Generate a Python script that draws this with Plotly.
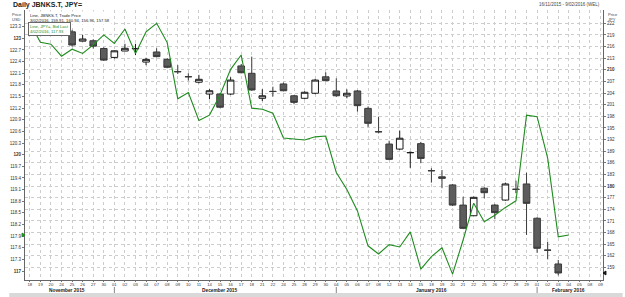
import plotly.graph_objects as go

# ---------------- data ----------------
dates = ["2015-11-18", "2015-11-19", "2015-11-20", "2015-11-24", "2015-11-25", "2015-11-26", "2015-11-27", "2015-11-30",
         "2015-12-01", "2015-12-02", "2015-12-03", "2015-12-04", "2015-12-07", "2015-12-08", "2015-12-09", "2015-12-10",
         "2015-12-11", "2015-12-14", "2015-12-15", "2015-12-16", "2015-12-17", "2015-12-18", "2015-12-21", "2015-12-22",
         "2015-12-24", "2015-12-25", "2015-12-28", "2015-12-29", "2015-12-30",
         "2016-01-04", "2016-01-05", "2016-01-06", "2016-01-07", "2016-01-08", "2016-01-12", "2016-01-13", "2016-01-14",
         "2016-01-15", "2016-01-18", "2016-01-19", "2016-01-20", "2016-01-21", "2016-01-22", "2016-01-25", "2016-01-26",
         "2016-01-27", "2016-01-28", "2016-01-29",
         "2016-02-01", "2016-02-02", "2016-02-03", "2016-02-04", "2016-02-05", "2016-02-08", "2016-02-09"]
day_labels = [d[-2:] for d in dates]
month_names = {"2015-11": "November 2015", "2015-12": "December 2015",
               "2016-01": "January 2016", "2016-02": "February 2016"}

# JPY= Bid Last (left axis), Nov 18 -> Feb 4
usdjpy_dates = dates[:52]
usdjpy = [123.40, 122.90, 122.85, 122.54, 122.72, 122.61, 122.83, 123.09,
          122.87, 123.24, 122.61, 123.17, 123.39, 122.89, 121.44, 121.60,
          120.88, 121.02, 121.54, 122.20, 122.57, 121.20, 121.17, 121.07,
          120.43, 120.40, 120.38, 120.46, 120.48,
          119.54, 119.10, 118.55, 117.65, 117.44, 117.68, 117.62, 118.01,
          117.05, 117.37, 117.60, 116.92, 117.80, 118.75, 118.27, 118.44,
          118.64, 118.81, 121.02,
          120.98, 119.91, 117.88, 117.93]

# JBNKS.T OHLC (right axis), Nov 24 -> Feb 3
candle_dates = dates[3:51]
opens = [221.0, 219.8, 217.4, 217.5, 215.5,
         213.2, 214.85, 215.4, 212.0, 214.6, 212.7, 209.55, 208.25, 206.8, 203.75, 203.75, 203.75, 211.0, 209.1,
         202.65, 204.45, 206.35, 203.3, 202.65, 203.95, 208.2,
         204.55, 203.25, 204.55, 200.05, 194.05, 190.85, 189.55, 188.6, 190.95, 184.0, 182.4, 180.3, 175.1,
         172.35, 179.45, 175.1, 176.4, 179.2, 180.55,
         171.7, 163.5, 159.91]
highs = [221.6, 220.3, 219.0, 217.9, 215.8,
         215.0, 216.7, 216.7, 213.1, 215.55, 213.0, 211.2, 209.1, 208.7, 205.0, 203.95, 208.1, 211.5, 213.4,
         205.0, 205.65, 206.7, 203.5, 204.45, 207.65, 209.35,
         207.8, 204.95, 204.8, 200.5, 197.9, 191.7, 194.3, 188.9, 191.4, 184.6, 184.15, 180.55, 177.25,
         177.3, 179.7, 175.4, 180.9, 181.4, 183.45,
         171.95, 165.65, 160.94]
lows = [219.8, 216.0, 217.3, 215.5, 212.3,
        212.9, 214.8, 213.8, 211.2, 213.2, 210.4, 208.9, 207.2, 206.5, 202.4, 200.1, 203.5, 209.1, 204.6,
        201.95, 203.1, 204.45, 201.1, 202.4, 203.7, 207.1,
        203.05, 202.65, 199.2, 195.3, 193.6, 186.7, 189.3, 184.7, 185.9, 180.9, 179.45, 174.85, 168.9,
        172.3, 176.85, 171.45, 176.2, 178.15, 167.4,
        162.8, 161.1, 156.96]
closes = [220.9, 216.4, 217.95, 216.1, 212.5,
          214.9, 215.55, 215.5, 212.7, 213.4, 210.65, 209.5, 208.2, 207.55, 204.6, 200.35, 207.35, 209.25, 204.8,
          203.3, 204.4, 204.6, 201.6, 204.2, 207.35, 207.2,
          203.3, 203.95, 200.75, 196.2, 194.0, 186.9, 192.35, 188.65, 187.15, 183.95, 182.0, 175.1, 169.1,
          177.1, 178.3, 173.15, 180.55, 179.15, 175.55,
          163.95, 163.45, 157.58]

left_ticks = [117.0, 117.3, 117.6, 117.9, 118.2, 118.5, 118.8, 119.1, 119.4, 119.7, 120.0,
              120.3, 120.6, 120.9, 121.2, 121.5, 121.8, 122.1, 122.4, 122.7, 123.0, 123.3]
right_ticks = [159, 162, 165, 168, 171, 174, 177, 180, 183, 186, 189,
               192, 195, 198, 201, 204, 207, 210, 213, 216, 219, 222]

# ---------------- layout helpers ----------------
W, H = 625, 297
L, R, T, B = 16, 20, 10, 17
PW, PH = W - L - R, H - T - B


def px(x):
    return (x - L) / PW


def py(y):
    return (H - B - y) / PH


FONT = "Liberation Sans, Arial, sans-serif"
GREEN = "#1e8c1e"
GRID = "#cdcdcd"

fig = go.Figure()

fig.add_trace(go.Candlestick(
    x=candle_dates, open=opens, high=highs, low=lows, close=closes,
    xaxis="x", yaxis="y",
    increasing=dict(line=dict(color="#1a1a1a", width=1), fillcolor="#ffffff"),
    decreasing=dict(line=dict(color="#3a3a3a", width=1), fillcolor="#5c5c5c"),
    whiskerwidth=0, showlegend=False, hoverinfo="skip"))

fig.add_trace(go.Scatter(
    x=usdjpy_dates, y=usdjpy, mode="lines", xaxis="x", yaxis="y2",
    line=dict(color=GREEN, width=1.1), showlegend=False, hoverinfo="skip"))


def fmt_left(v):
    s = ("%g" % v)
    return "<b>%s</b>" % s if abs(v - round(v)) < 1e-9 else s


def fmt_right(v):
    return "<b>%d</b>" % v if v % 30 == 0 else "%d" % v


fig.update_layout(
    width=W, height=H, autosize=False,
    margin=dict(l=L, r=R, t=T, b=B, pad=0),
    paper_bgcolor="white", plot_bgcolor="white",
    font=dict(family=FONT, size=5, color="#333333"),
    boxgap=0.2, boxgroupgap=0.22,
    xaxis=dict(type="category", categoryorder="array", categoryarray=dates,
               range=[-0.455, 54.235], tickmode="array", tickvals=dates, ticktext=day_labels,
               tickfont=dict(size=4.2, color="#333333"), ticks="outside", ticklen=1, tickcolor="#777777",
               ticklabelstandoff=-1,
               showgrid=True, gridcolor=GRID, griddash="dot", gridwidth=1,
               showline=True, linecolor="#666666", linewidth=1,
               rangeslider=dict(visible=False), fixedrange=True, zeroline=False),
    yaxis=dict(side="right", range=[155.772, 225.431], tickmode="array",
               tickvals=right_ticks, ticktext=[fmt_right(v) for v in right_ticks],
               tickfont=dict(size=4.5, color="#333333"), ticks="outside", ticklen=2, tickcolor="#777777",
               showgrid=True, gridcolor=GRID, griddash="dot", gridwidth=1,
               showline=True, linecolor="#666666", linewidth=1, zeroline=False, fixedrange=True),
    yaxis2=dict(side="left", overlaying="y", range=[116.768, 123.731], tickmode="array",
                tickvals=left_ticks, ticktext=[fmt_left(v) for v in left_ticks],
                tickfont=dict(size=4.5, color="#333333"), ticks="outside", ticklen=2, tickcolor="#777777",
                showgrid=False, showline=True, linecolor="#666666", linewidth=1,
                zeroline=False, fixedrange=True),
)

ann = []
# title & range text
ann.append(dict(text="<b>Daily JBNKS.T, JPY=</b>", xref="paper", yref="paper", x=px(2), y=py(5),
                xanchor="left", yanchor="middle", showarrow=False, font=dict(size=7, color="#222222")))
ann.append(dict(text="16/11/2015 - 9/02/2016 (WEL)", xref="paper", yref="paper", x=px(604), y=py(5),
                xanchor="right", yanchor="middle", showarrow=False, font=dict(size=4.5, color="#444444")))
# axis headers
ann.append(dict(text="Price<br>USD", xref="paper", yref="paper", x=px(1), y=py(10),
                xanchor="left", yanchor="top", align="left", showarrow=False, font=dict(size=4, color="#444444")))
ann.append(dict(text="Price<br>JPY", xref="paper", yref="paper", x=px(608), y=py(10),
                xanchor="left", yanchor="top", align="left", showarrow=False, font=dict(size=4, color="#444444")))
# legend boxes
ann.append(dict(text="Line, JBNKS.T, Trade Price<br>%s, %.2f, %.2f, %.2f, %.2f" % (
    "3/02/2016", opens[-1], highs[-1], lows[-1], closes[-1]),
    xref="paper", yref="paper", x=px(19), y=py(10.5), xanchor="left", yanchor="top", align="left",
    showarrow=False, bgcolor="white", font=dict(size=4.2, color="#222222")))
ann.append(dict(text="Line, JPY=, Bid Last<br>%s, %.2f" % ("4/02/2016", usdjpy[-1]),
                xref="paper", yref="paper", x=px(19), y=py(21.5), xanchor="left", yanchor="top", align="left",
                showarrow=False, bgcolor="white", bordercolor="#666666", borderwidth=1, borderpad=1,
                font=dict(size=4.2, color=GREEN)))
# month labels, centred in each month's span
months = []
for i, d in enumerate(dates):
    k = d[:7]
    if not months or months[-1][0] != k:
        months.append([k, i, i])
    else:
        months[-1][2] = i
shapes = []
for k, i0, i1 in months:
    ann.append(dict(text="<b>%s</b>" % month_names[k], xref="x", yref="paper", x=(i0 + i1) / 2.0, y=py(290.2),
                    xanchor="center", yanchor="middle", showarrow=False, font=dict(size=4.8, color="#222222")))
    if i0 > 0:
        shapes.append(dict(type="line", xref="x", yref="paper", x0=i0, x1=i0, y0=py(287), y1=py(293),
                           line=dict(color="#888888", width=1)))

# bottom scroll strip
shapes.append(dict(type="rect", xref="paper", yref="paper", x0=px(0), x1=px(W), y0=py(293), y1=py(H),
                   fillcolor="#d9d9d9", line=dict(width=0), layer="above"))
# last-value markers on the axes
shapes.append(dict(type="path", xref="paper", yref="y2",
                   path="M %f,%f L %f,%f L %f,%f Z" % (px(L - 3), usdjpy[-1] + 0.05, px(L), usdjpy[-1],
                                                       px(L - 3), usdjpy[-1] - 0.05),
                   fillcolor=GREEN, line=dict(color=GREEN, width=1), layer="above"))
shapes.append(dict(type="path", xref="paper", yref="y",
                   path="M %f,%f L %f,%f L %f,%f Z" % (px(W - R + 3), closes[-1] + 0.5, px(W - R), closes[-1],
                                                       px(W - R + 3), closes[-1] - 0.5),
                   fillcolor="#111111", line=dict(color="#111111", width=1), layer="above"))

fig.update_layout(annotations=ann, shapes=shapes)

fig.write_html("out.html")
